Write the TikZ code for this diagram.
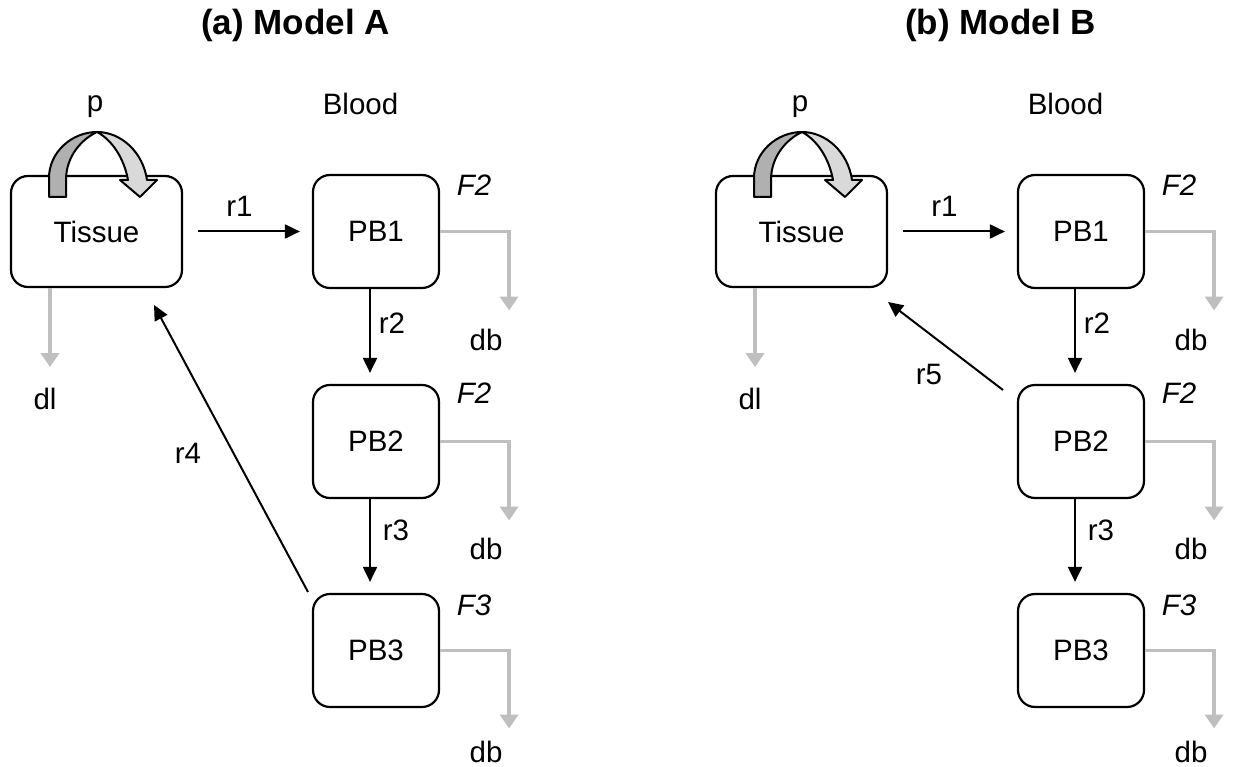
\documentclass[tikz,border=0pt]{standalone}
\usepackage{fontspec}
\setmainfont{Liberation Sans}
\usetikzlibrary{arrows.meta}
\newcommand\lblfont{\fontsize{29.5}{34}\selectfont}
\newcommand\mytitlefont{\fontsize{35}{40}\selectfont\bfseries}
\begin{document}
\begin{tikzpicture}[x=1pt,y=-1pt,
  box/.style={draw, line width=2.2pt, rounded corners=17pt, minimum width=126pt, minimum height=113pt, font=\lblfont, inner sep=0pt},
  tbox/.style={box, minimum width=171pt, minimum height=111pt},
  lab/.style={font=\lblfont, inner sep=0pt},
  flab/.style={font=\lblfont\itshape, inner sep=0pt},
  ttl/.style={font=\mytitlefont, inner sep=0pt},
  arr/.style={line width=2pt, -{Triangle[length=15pt,width=14pt]}},
  gry/.style={draw=black!25, line width=3.5pt, -{Triangle[length=14pt,width=18pt]}},
  darkband/.style={fill=black!31, draw=black, line width=2pt, line join=round},
  lightband/.style={fill=black!15, draw=black, line width=2pt, line join=round}]
\path[use as bounding box] (0,0) rectangle (1233,767);

% ---------------- Model A ----------------
\node[ttl] (A-title) at (295.5,25) {(a) Model A};
\node[tbox] (A-tissue) at (96.5,231.5) {Tissue};
\node[box] (A-pb1) at (376,231.5) {PB1};
\node[box] (A-pb2) at (376,441.5) {PB2};
\node[box] (A-pb3) at (376,650.5) {PB3};
\node[lab] (A-blood) at (360.5,104) {Blood};
\node[lab] (A-p) at (95,107) {p};
\node[flab] (A-f1) at (474,185) {F2};
\node[flab] (A-f2) at (474,393) {F2};
\node[flab] (A-f3) at (474,605) {F3};
\node[lab] (A-db1) at (486,340) {db};
\node[lab] (A-db2) at (486,549) {db};
\node[lab] (A-db3) at (486,752) {db};
\node[lab] (A-dl) at (45,399) {dl};
\node[lab] (A-r1) at (239.5,206) {r1};
\node[lab] (A-r2) at (392,323) {r2};
\node[lab] (A-r3) at (396,530) {r3};
\node[lab] (A-r4) at (188,453) {r4};
\coordinate (A-r4s) at (308,592);
\coordinate (A-r4t) at (154,305);

\draw[arr, shorten <=15pt, shorten >=12pt] (A-tissue.east) -- (A-pb1.west);
\draw[arr, shorten >=11pt] ([xshift=-6pt]A-pb1.south) -- ([xshift=-6pt]A-pb2.north);
\draw[arr, shorten >=11pt] ([xshift=-6pt]A-pb2.south) -- ([xshift=-6pt]A-pb3.north);
\draw[arr] (A-r4s) -- (A-r4t);
\draw[gry] (A-pb1.east) -- ++(69,0) -- ++(0,79);
\draw[gry] (A-pb2.east) -- ++(69,0) -- ++(0,79);
\draw[gry] (A-pb3.east) -- ++(69,0) -- ++(0,78);
\draw[gry] ([xshift=-46.5pt]A-tissue.south) -- ++(0,79);
% self loop ribbon
\path[darkband] (49,197) -- (49,178) .. controls (49,152) and (72,132) .. (97,132)
  .. controls (82,139) and (66,156) .. (66,180) -- (66,197) -- cycle;
\path[lightband] (97,132) .. controls (121,132) and (143,152) .. (147,180) -- (157,180) -- (140,197)
  -- (120,180) -- (128,180) .. controls (124,158) and (112,140) .. (97,132) -- cycle;

% ---------------- Model B ----------------
\begin{scope}[xshift=705pt]
\node[ttl] (B-title) at (295.5,25) {(b) Model B};
\node[tbox] (B-tissue) at (96.5,231.5) {Tissue};
\node[box] (B-pb1) at (376,231.5) {PB1};
\node[box] (B-pb2) at (376,441.5) {PB2};
\node[box] (B-pb3) at (376,650.5) {PB3};
\node[lab] (B-blood) at (360.5,104) {Blood};
\node[lab] (B-p) at (95,107) {p};
\node[flab] (B-f1) at (474,185) {F2};
\node[flab] (B-f2) at (474,393) {F2};
\node[flab] (B-f3) at (474,605) {F3};
\node[lab] (B-db1) at (486,340) {db};
\node[lab] (B-db2) at (486,549) {db};
\node[lab] (B-db3) at (486,752) {db};
\node[lab] (B-dl) at (45,399) {dl};
\node[lab] (B-r1) at (239.5,206) {r1};
\node[lab] (B-r2) at (392,323) {r2};
\node[lab] (B-r3) at (396,530) {r3};
\node[lab] (B-r5) at (224,374) {r5};
\coordinate (B-r5s) at (298,390);
\coordinate (B-r5t) at (183,302);

\draw[arr, shorten <=15pt, shorten >=12pt] (B-tissue.east) -- (B-pb1.west);
\draw[arr, shorten >=11pt] ([xshift=-6pt]B-pb1.south) -- ([xshift=-6pt]B-pb2.north);
\draw[arr, shorten >=11pt] ([xshift=-6pt]B-pb2.south) -- ([xshift=-6pt]B-pb3.north);
\draw[arr] (B-r5s) -- (B-r5t);
\draw[gry] (B-pb1.east) -- ++(69,0) -- ++(0,79);
\draw[gry] (B-pb2.east) -- ++(69,0) -- ++(0,79);
\draw[gry] (B-pb3.east) -- ++(69,0) -- ++(0,78);
\draw[gry] ([xshift=-46.5pt]B-tissue.south) -- ++(0,79);
\path[darkband] (49,197) -- (49,178) .. controls (49,152) and (72,132) .. (97,132)
  .. controls (82,139) and (66,156) .. (66,180) -- (66,197) -- cycle;
\path[lightband] (97,132) .. controls (121,132) and (143,152) .. (147,180) -- (157,180) -- (140,197)
  -- (120,180) -- (128,180) .. controls (124,158) and (112,140) .. (97,132) -- cycle;
\end{scope}
\end{tikzpicture}
\end{document}
